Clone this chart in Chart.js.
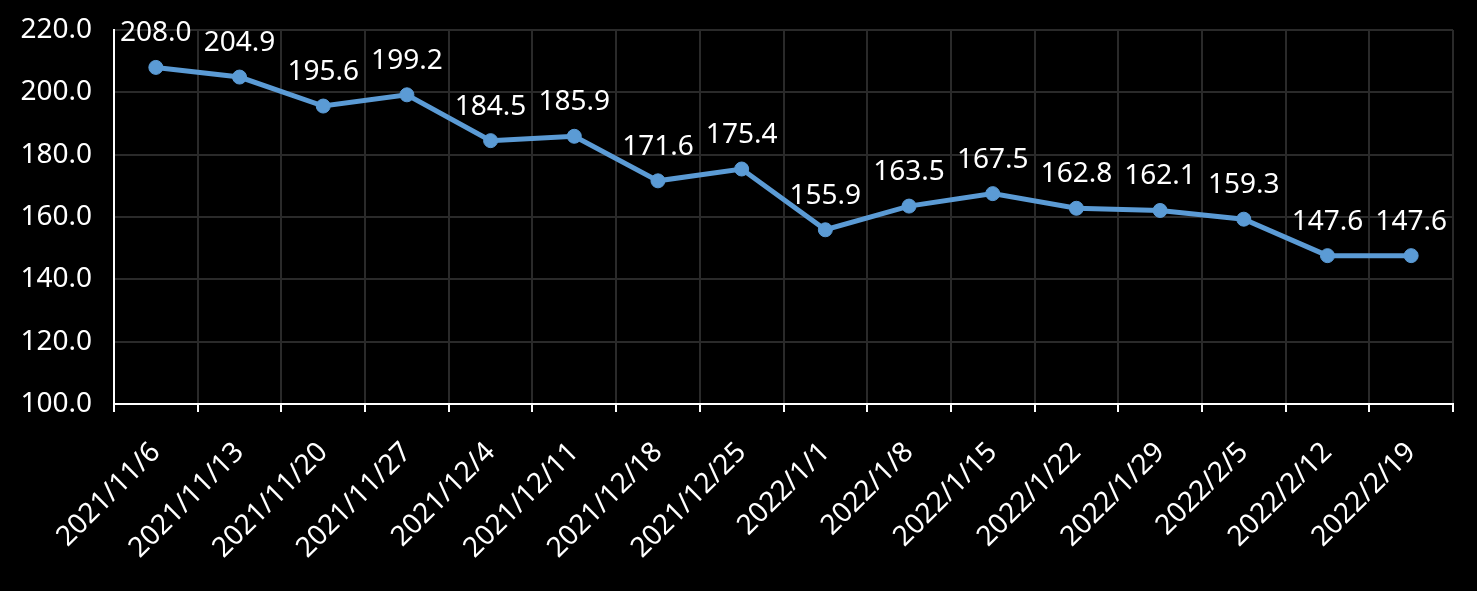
<!DOCTYPE html>
<html>
<head>
<meta charset="utf-8">
<script src="https://cdn.jsdelivr.net/npm/chart.js@4.4.1/dist/chart.umd.min.js"></script>
<style>
html,body{margin:0;padding:0;background:#000;}
canvas{display:block;}
</style>
</head>
<body>
<canvas id="c" width="1477" height="591"></canvas>
<script>
const categories = ["2021/11/6","2021/11/13","2021/11/20","2021/11/27","2021/12/4","2021/12/11","2021/12/18","2021/12/25","2022/1/1","2022/1/8","2022/1/15","2022/1/22","2022/1/29","2022/2/5","2022/2/12","2022/2/19"];
const values = [208.0,204.9,195.6,199.2,184.5,185.9,171.6,175.4,155.9,163.5,167.5,162.8,162.1,159.3,147.6,147.6];
const yTicks = [100,120,140,160,180,200,220];

const FONT = "'Noto Sans', 'Open Sans', sans-serif";
Chart.defaults.font.family = FONT;
Chart.defaults.font.size = 28;
Chart.defaults.color = '#ffffff';

const labelPlugin = {
  id: 'pointLabels',
  afterDatasetsDraw(chart) {
    const ctx = chart.ctx;
    const meta = chart.getDatasetMeta(0);
    ctx.save();
    ctx.font = "28px " + FONT;
    ctx.fillStyle = '#ffffff';
    ctx.textAlign = 'center';
    ctx.textBaseline = 'alphabetic';
    meta.data.forEach((pt, i) => {
      ctx.fillText(values[i].toFixed(1), pt.x, pt.y - 26);
    });
    ctx.restore();
  }
};

new Chart(document.getElementById('c'), {
  type: 'line',
  data: {
    labels: categories,
    datasets: [{
      data: values,
      borderColor: '#5b9bd5',
      backgroundColor: '#5b9bd5',
      borderWidth: 5,
      pointRadius: 7,
      pointBackgroundColor: '#5b9bd5',
      pointBorderColor: '#5b9bd5',
      pointBorderWidth: 1,
      tension: 0,
      clip: false
    }]
  },
  options: {
    responsive: false,
    animation: false,
    devicePixelRatio: 1,
    layout: { padding: { left: 0, right: 24, top: 30, bottom: 0 } },
    plugins: { legend: { display: false }, tooltip: { enabled: false } },
    scales: {
      x: {
        offset: true,
        grid: { offset: true, color: '#2a2a2a', lineWidth: 2, tickColor: '#ffffff', tickLength: 8, tickWidth: 2 },
        border: { color: '#ffffff', width: 2 },
        ticks: { maxRotation: 45, minRotation: 45, padding: 24, color: '#ffffff', font: { size: 28 } },
        afterFit(scale) { scale.height = 591 - 404; scale.paddingLeft = 0; scale.paddingRight = 0; }
      },
      y: {
        min: 100, max: 220,
        afterBuildTicks(scale) { scale.ticks = yTicks.map(v => ({ value: v })); },
        grid: { color: '#2a2a2a', lineWidth: 2, drawTicks: false },
        border: { color: '#ffffff', width: 2 },
        ticks: { padding: 22, color: '#ffffff', font: { size: 28 }, callback: v => Number(v).toFixed(1) },
        afterFit(scale) { scale.width = 114; scale.paddingTop = 0; scale.paddingBottom = 0; }
      }
    }
  },
  plugins: [labelPlugin]
});
</script>
</body>
</html>
